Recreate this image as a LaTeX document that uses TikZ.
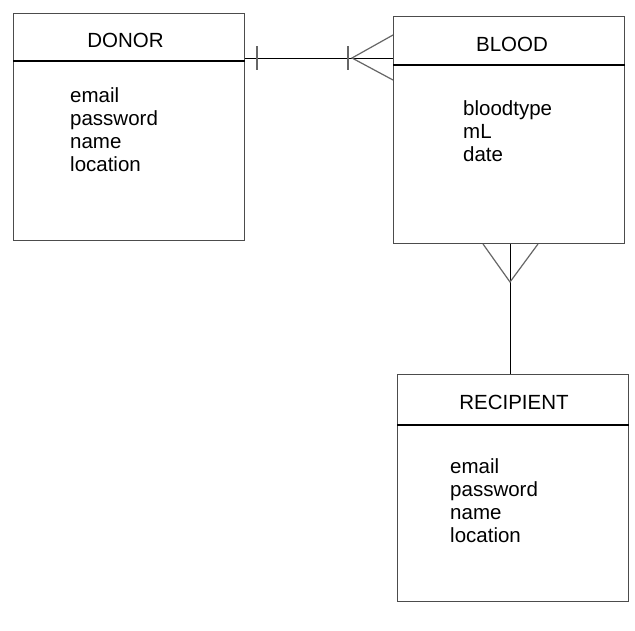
\documentclass[tikz,border=0pt]{standalone}
\usepackage{fontspec}
\setmainfont{Liberation Sans}
\begin{document}
\begin{tikzpicture}[x=1pt,y=-1pt,
  entity/.style={draw=black!70, line width=1pt, minimum width=231pt, minimum height=227pt, anchor=north west, inner sep=0pt},
  divider/.style={draw=black, line width=1.8pt},
  title/.style={anchor=base, font=\fontsize{20.5}{23}\selectfont, inner sep=0pt},
  attr/.style={anchor=base west, font=\fontsize{20.5}{23}\selectfont, inner sep=0pt},
  rel/.style={draw=black, line width=0.9pt},
  foot/.style={draw=black!60, line width=1.2pt}]
\useasboundingbox (0,0) rectangle (635,630);
\fill[white] (0,0) rectangle (635,630);
% entities
\node[entity] (donor) at (13,13) {};
\node[entity] (blood) at (393,16) {};
\node[entity] (recip) at (397,374) {};
% dividers
\draw[divider] ([yshift=-48pt]donor.north west) -- ([yshift=-48pt]donor.north east);
\draw[divider] ([yshift=-49pt]blood.north west) -- ([yshift=-49pt]blood.north east);
\draw[divider] ([yshift=-51pt]recip.north west) -- ([yshift=-51pt]recip.north east);
% titles
\node[title] (donorT) at (125.5,47) {DONOR};
\node[title] (bloodT) at (512,51) {BLOOD};
\node[title] (recipT) at (514,409) {RECIPIENT};
% attributes
\node[attr] (d1) at (70,102) {email};
\node[attr] (d2) at (70,125) {password};
\node[attr] (d3) at (70,148) {name};
\node[attr] (d4) at (70,171) {location};
\node[attr] (b1) at (463,115) {bloodtype};
\node[attr] (b2) at (463,138) {mL};
\node[attr] (b3) at (463,161) {date};
\node[attr] (r1) at (450,473) {email};
\node[attr] (r2) at (450,496) {password};
\node[attr] (r3) at (450,519) {name};
\node[attr] (r4) at (450,542) {location};
% donor -- blood
\coordinate (h) at (0,58);
\draw[rel] (donor.east |- h) -- (blood.west |- h);
\draw[foot] (257,46) -- (257,70);
\draw[foot] (348,46) -- (348,70);
\coordinate (hu) at (0,35);
\coordinate (hl) at (0,80);
\draw[foot] (blood.west |- hu) -- (352,58) -- (blood.west |- hl);
% blood -- recipient
\coordinate (v) at (510,0);
\draw[rel] (blood.south -| v) -- (recip.north -| v);
\coordinate (vl) at (483,0);
\coordinate (vr) at (538,0);
\draw[foot] (blood.south -| vl) -- (510,282) -- (blood.south -| vr);
\end{tikzpicture}
\end{document}
